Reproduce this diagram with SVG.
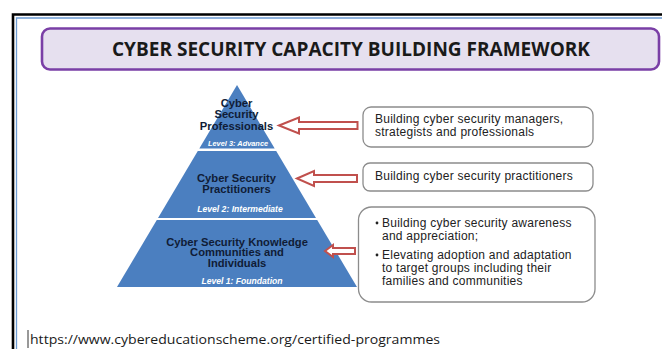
<svg xmlns="http://www.w3.org/2000/svg" width="662" height="349" viewBox="0 0 662 349">
  <style>
    .pyr { fill: #4b7fc0; }
    .lvl { font-family: "Liberation Sans", Arial, sans-serif; font-weight: bold; font-size: 11.2px; fill: #101c36; text-anchor: middle; }
    .tag { font-family: "Liberation Sans", Arial, sans-serif; font-weight: bold; font-style: italic; font-size: 8.6px; fill: #ffffff; }
    .tag-sm { font-size: 7.4px; }
    .arrow { fill: #ffffff; stroke: #c0504d; stroke-width: 2; stroke-linejoin: miter; }
    .box { fill: #ffffff; stroke: #8c8c8c; stroke-width: 1.3; }
    .txt { font-family: "Liberation Sans", Arial, sans-serif; font-size: 12px; letter-spacing: 0.25px; fill: #222222; }
  </style>
  <defs>
    <clipPath id="clip-top">
      <polygon points="237,85 274.7,148.5 199.3,148.5"/>
    </clipPath>
  </defs>

  <rect width="662" height="349" fill="#ffffff"/>

  <!-- page frame -->
  <g id="frame">
    <path d="M13,349 V14.5 H662" fill="none" stroke="#000000" stroke-width="2.6"/>
    <path d="M16.5,349 V18 H662" fill="none" stroke="#6c9bd2" stroke-width="1.3"/>
  </g>

  <!-- title banner -->
  <g id="title">
    <rect x="42" y="28.5" width="617" height="41" rx="8" fill="#e6e0ef" stroke="#7a3fa6" stroke-width="2.6"/>
    <text x="351" y="56" font-family="'Open Sans', 'Liberation Sans', sans-serif" font-weight="bold" font-size="19px" fill="#1a1a1a" text-anchor="middle" textLength="478" lengthAdjust="spacingAndGlyphs">CYBER SECURITY CAPACITY BUILDING FRAMEWORK</text>
  </g>

  <!-- pyramid levels -->
  <g id="level3">
    <polygon class="pyr" points="237,85 274.7,148.5 199.3,148.5"/>
    <text class="lvl" x="236.5" y="106.7">Cyber</text>
    <text class="lvl" x="236.5" y="118.2">Security</text>
    <text class="lvl" x="236.5" y="129.5">Professionals</text>
    <text class="tag tag-sm" x="208" y="146" clip-path="url(#clip-top)">Level 3: Advance</text>
  </g>

  <g id="level2">
    <polygon class="pyr" points="197.8,151 276.2,151 316,218 158,218"/>
    <text class="lvl" x="236.5" y="181.5">Cyber Security</text>
    <text class="lvl" x="236.5" y="192.8">Practitioners</text>
    <text class="tag" x="240" y="211.5" text-anchor="middle">Level 2: Intermediate</text>
  </g>

  <g id="level1">
    <polygon class="pyr" points="156.8,220 317.2,220 357,287 117,287"/>
    <text class="lvl" x="237" y="245.5">Cyber Security Knowledge</text>
    <text class="lvl" x="237" y="256">Communities and</text>
    <text class="lvl" x="237" y="267">Individuals</text>
    <text class="tag" x="242" y="284" text-anchor="middle">Level 1: Foundation</text>
  </g>

  <!-- description boxes -->
  <g id="desc3">
    <rect class="box" x="363" y="107" width="230" height="40" rx="8"/>
    <text class="txt" x="375" y="123">Building cyber security managers,</text>
    <text class="txt" x="375" y="136">strategists and professionals</text>
  </g>

  <g id="desc2">
    <rect class="box" x="363" y="163" width="230" height="28" rx="7"/>
    <text class="txt" x="375" y="180">Building cyber security practitioners</text>
  </g>

  <g id="desc1">
    <rect class="box" x="358.5" y="207" width="236.5" height="95" rx="13"/>
    <circle cx="377" cy="223" r="1.4" fill="#222222"/>
    <text class="txt" x="382" y="227">Building cyber security awareness</text>
    <text class="txt" x="382" y="240">and appreciation;</text>
    <circle cx="377" cy="255" r="1.4" fill="#222222"/>
    <text class="txt" x="382" y="259">Elevating adoption and adaptation</text>
    <text class="txt" x="382" y="272">to target groups including their</text>
    <text class="txt" x="382" y="285">families and communities</text>
  </g>

  <!-- connectors: outlined block arrows pointing at the pyramid -->
  <g id="connectors">
    <polygon class="arrow" points="279,125.5 299,117.5 299,122 357.5,122 357.5,129 299,129 299,133.5"/>
    <polygon class="arrow" points="297,178.5 314,171 314,175 357,175 357,182 314,182 314,186"/>
    <polygon class="arrow" points="325,251 333,245 333,248 355,248 355,254 333,254 333,257"/>
  </g>

  <!-- source line -->
  <g id="source">
    <line x1="28" y1="330" x2="28" y2="348" stroke="#333333" stroke-width="1"/>
    <text x="30" y="344" font-family="'Open Sans', 'Liberation Sans', sans-serif" font-size="13.5px" fill="#1a1a1a" textLength="410" lengthAdjust="spacingAndGlyphs">https://www.cybereducationscheme.org/certified-programmes</text>
  </g>
</svg>
